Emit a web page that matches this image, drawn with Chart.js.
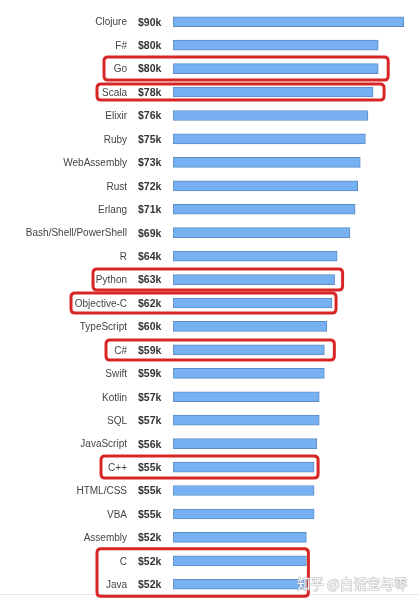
<!DOCTYPE html>
<html>
<head>
<meta charset="utf-8">
<script src="https://cdn.jsdelivr.net/npm/chart.js@4.4.0/dist/chart.umd.min.js"></script>
<style>
  html, body { margin: 0; padding: 0; background: #fff; }
  #wrap { width: 419px; height: 604px; position: relative; }
</style>
</head>
<body>
<div id="wrap"><canvas id="chart"></canvas></div>
<script>
// salary by language (k$)
var languages = ['Clojure', 'F#', 'Go', 'Scala', 'Elixir', 'Ruby', 'WebAssembly', 'Rust', 'Erlang',
  'Bash/Shell/PowerShell', 'R', 'Python', 'Objective-C', 'TypeScript', 'C#', 'Swift', 'Kotlin', 'SQL',
  'JavaScript', 'C++', 'HTML/CSS', 'VBA', 'Assembly', 'C', 'Java'];
var salaries = [90, 80, 80, 78, 76, 75, 73, 72, 71, 69, 64, 63, 62, 60, 59, 59, 57, 57, 56, 55, 55, 55, 52, 52, 52];

// rows the red boxes go around
var highlights = [['Go'], ['Scala'], ['Python'], ['Objective-C'], ['C#'], ['C++'], ['C', 'Java']];
// box look: left edge, extra space after the bar end, half height
var boxStyle = [
  { left: 104, pad: 10, half: 11.5 },
  { left: 97, pad: 11, half: 8 },
  { left: 93, pad: 8, half: 10.5 },
  { left: 71, pad: 4, half: 10 },
  { left: 106, pad: 10, half: 10 },
  { left: 101, pad: 4, half: 11 },
  { left: 97, pad: 2, half: 12 }
];

function roundRect(ctx, x, y, w, h, r) {
  ctx.beginPath();
  ctx.moveTo(x + r, y);
  ctx.lineTo(x + w - r, y);
  ctx.quadraticCurveTo(x + w, y, x + w, y + r);
  ctx.lineTo(x + w, y + h - r);
  ctx.quadraticCurveTo(x + w, y + h, x + w - r, y + h);
  ctx.lineTo(x + r, y + h);
  ctx.quadraticCurveTo(x, y + h, x, y + h - r);
  ctx.lineTo(x, y + r);
  ctx.quadraticCurveTo(x, y, x + r, y);
  ctx.closePath();
}

var extras = {
  id: 'extras',
  afterDraw: function(chart) {
    var ctx = chart.ctx;
    var xs = chart.scales.x, ys = chart.scales.y;
    ctx.save();
    // salary text next to names
    ctx.font = 'bold 10.5px "Liberation Sans", Arial, sans-serif';
    ctx.fillStyle = '#333';
    ctx.textAlign = 'left';
    ctx.textBaseline = 'middle';
    salaries.forEach(function(v, i) {
      ctx.fillText('$' + v + 'k', 138, ys.getPixelForValue(i) + 1);
    });
    // faint line near bottom
    ctx.strokeStyle = '#e8e8e8';
    ctx.lineWidth = 1;
    ctx.beginPath();
    ctx.moveTo(0, 594.5);
    ctx.lineTo(419, 594.5);
    ctx.stroke();
    // red boxes
    ctx.strokeStyle = '#d82626';
    ctx.lineWidth = 3;
    highlights.forEach(function(group, k) {
      var st = boxStyle[k];
      var first = languages.indexOf(group[0]);
      var last = languages.indexOf(group[group.length - 1]);
      var top = ys.getPixelForValue(first) - st.half;
      var bottom = ys.getPixelForValue(last) + st.half;
      var maxV = 0;
      group.forEach(function(g) { maxV = Math.max(maxV, salaries[languages.indexOf(g)]); });
      var right = xs.getPixelForValue(maxV) + st.pad;
      roundRect(ctx, st.left, top, right - st.left, bottom - top, 4);
      ctx.stroke();
    });
    // watermark
    ctx.font = '13.5px "Noto Sans CJK SC", sans-serif';
    ctx.textAlign = 'left';
    ctx.lineWidth = 1;
    ctx.strokeStyle = 'rgba(160,160,160,0.7)';
    ctx.fillStyle = 'rgba(255,255,255,0.9)';
    ctx.strokeText('知乎 @白话宝与零', 297, 584);
    ctx.fillText('知乎 @白话宝与零', 297, 584);
    ctx.restore();
  }
};

new Chart(document.getElementById('chart'), {
  type: 'bar',
  data: {
    labels: languages,
    datasets: [{
      data: salaries,
      backgroundColor: '#77b1f1',
      borderColor: '#5d8cc4',
      borderWidth: 1,
      borderSkipped: false,
      barThickness: 10
    }]
  },
  options: {
    indexAxis: 'y',
    responsive: true,
    maintainAspectRatio: false,
    animation: false,
    layout: { padding: { top: 10, bottom: 8, left: 0, right: 10 } },
    plugins: { legend: { display: false }, tooltip: { enabled: false } },
    scales: {
      x: {
        min: 0,
        max: 92,
        display: false
      },
      y: {
        grid: { display: false, drawTicks: false },
        border: { display: false },
        ticks: {
          padding: 46,
          labelOffset: 1,
          color: '#444',
          font: { family: '"Liberation Sans", Arial, sans-serif', size: 10 }
        },
        afterFit: function(scale) {
          scale.width = 173;
          // the tick padding would otherwise also push the rows in from top and bottom
          scale.paddingTop = 0;
          scale.paddingBottom = 0;
        }
      }
    }
  },
  plugins: [extras]
});
</script>
</body>
</html>
